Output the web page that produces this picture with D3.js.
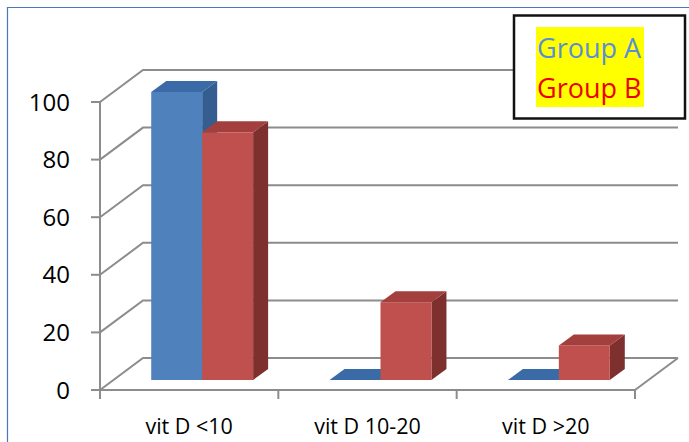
<!DOCTYPE html>
<html><head><meta charset="utf-8">
<script src="https://cdn.jsdelivr.net/npm/d3@7"></script>
<style>body{margin:0;background:#fff}svg{display:block}</style>
</head><body>
<svg id="c" width="689" height="442"></svg>
<script>
const categories = ["vit D <10", "vit D 10-20", "vit D >20"];
const groups = ["Group A", "Group B"];
const groupA = [100, 0, 0];
const groupB = [86, 27, 12];
const yTicks = [0, 20, 40, 60, 80, 100];

const svg = d3.select("#c");
const W = 689, H = 442;
// outer frame
svg.append("path").attr("d", `M7.5,${H}V7.5H${W}`).attr("fill","none").attr("stroke","#4a76c0").attr("stroke-width",1.2);

const x0 = 100, x1 = 635, yBase = 390, yTop = 102;
const depth = {dx: 43, dy: -32};
const barOff = {dx: 13, dy: -10};
const barDepth = {dx: 15, dy: -11};

const x = d3.scaleBand().domain(categories).range([x0, x1]);
const bw = x.bandwidth();
const barW = bw / 3.5;
const xg = d3.scaleBand().domain(groups).range([(bw - 2*barW)/2, (bw + 2*barW)/2]);
const y = d3.scaleLinear().domain([0, 100]).range([yBase, yTop]);

const grid = "#8c8c8c";
const g = svg.append("g");
// left wall diagonals and back wall gridlines
yTicks.forEach(v => {
  const yy = y(v);
  g.append("path")
    .attr("d", `M${x0},${yy}L${x0+depth.dx},${yy+depth.dy}H${x1+depth.dx}`)
    .attr("fill","none").attr("stroke",grid).attr("stroke-width",2);
});
// floor right edge
g.append("path").attr("d", `M${x1},${yBase}L${x1+depth.dx},${yBase+depth.dy}`)
  .attr("fill","none").attr("stroke",grid).attr("stroke-width",2);
// front x axis
g.append("path").attr("d", `M${x0},${yBase}H${x1}`).attr("fill","none").attr("stroke",grid).attr("stroke-width",2);
// y axis line + ticks
g.append("path").attr("d", `M${x0},${y(100)}V${yBase}`).attr("fill","none").attr("stroke",grid).attr("stroke-width",2);
yTicks.forEach(v => {
  g.append("path").attr("d", `M${x0-9},${y(v)}H${x0}`).attr("stroke",grid).attr("stroke-width",2);
  svg.append("text").attr("x", 70).attr("y", y(v)).attr("dy","0.36em")
    .attr("text-anchor","end").attr("font-family","Open Sans, sans-serif")
    .attr("font-size",24).attr("fill","#000").text(v);
});
// x category ticks
const xTickPos = categories.map(c => x(c)).concat([x1]);
xTickPos.forEach(p => {
  g.append("path").attr("d", `M${p},${yBase}V${yBase+9}`).attr("stroke",grid).attr("stroke-width",2);
});
categories.forEach(c => {
  svg.append("text").attr("x", x(c) + bw/2).attr("y", 434)
    .attr("text-anchor","middle").attr("font-family","Open Sans, sans-serif")
    .attr("font-size",21.5).attr("fill","#000").text(c);
});

// bars
const colors = {
  "Group A": {front:"#4f81bd", top:"#3b6ba6", side:"#345d90"},
  "Group B": {front:"#c0504d", top:"#a33f3c", side:"#7d302e"}
};
const data = [];
categories.forEach((c,i) => {
  data.push({cat:c, grp:"Group A", v:groupA[i]});
  data.push({cat:c, grp:"Group B", v:groupB[i]});
});
const bars = svg.append("g");
data.forEach(d => {
  const col = colors[d.grp];
  const L = x(d.cat) + xg(d.grp) + barOff.dx;
  const R = L + barW;
  const B = y(0) + barOff.dy;
  const T = y(d.v) + barOff.dy;
  const ddx = barDepth.dx, ddy = barDepth.dy;
  if (d.v > 0) {
    bars.append("path").attr("d", `M${R},${T}L${R+ddx},${T+ddy}L${R+ddx},${B+ddy}L${R},${B}Z`).attr("fill", col.side);
    bars.append("rect").attr("x",L).attr("y",T).attr("width",barW).attr("height",B-T).attr("fill",col.front);
  }
  bars.append("path").attr("d", `M${L},${T}L${L+ddx},${T+ddy}L${R+ddx},${T+ddy}L${R},${T}Z`).attr("fill", col.top);
});

// legend
const lg = svg.append("g");
lg.append("rect").attr("x",514).attr("y",15.5).attr("width",171).attr("height",103)
  .attr("fill","#fff").attr("stroke","#111").attr("stroke-width",2.5);
lg.append("rect").attr("x",536).attr("y",27).attr("width",108).attr("height",80).attr("fill","#ffff00");
lg.append("text").attr("x",537).attr("y",58).attr("font-family","Open Sans, sans-serif")
  .attr("font-size",27).attr("fill","#5b8ed6").text(groups[0]);
lg.append("text").attr("x",537).attr("y",98).attr("font-family","Open Sans, sans-serif")
  .attr("font-size",27).attr("fill","#ee0000").text(groups[1]);
</script>
</body></html>
